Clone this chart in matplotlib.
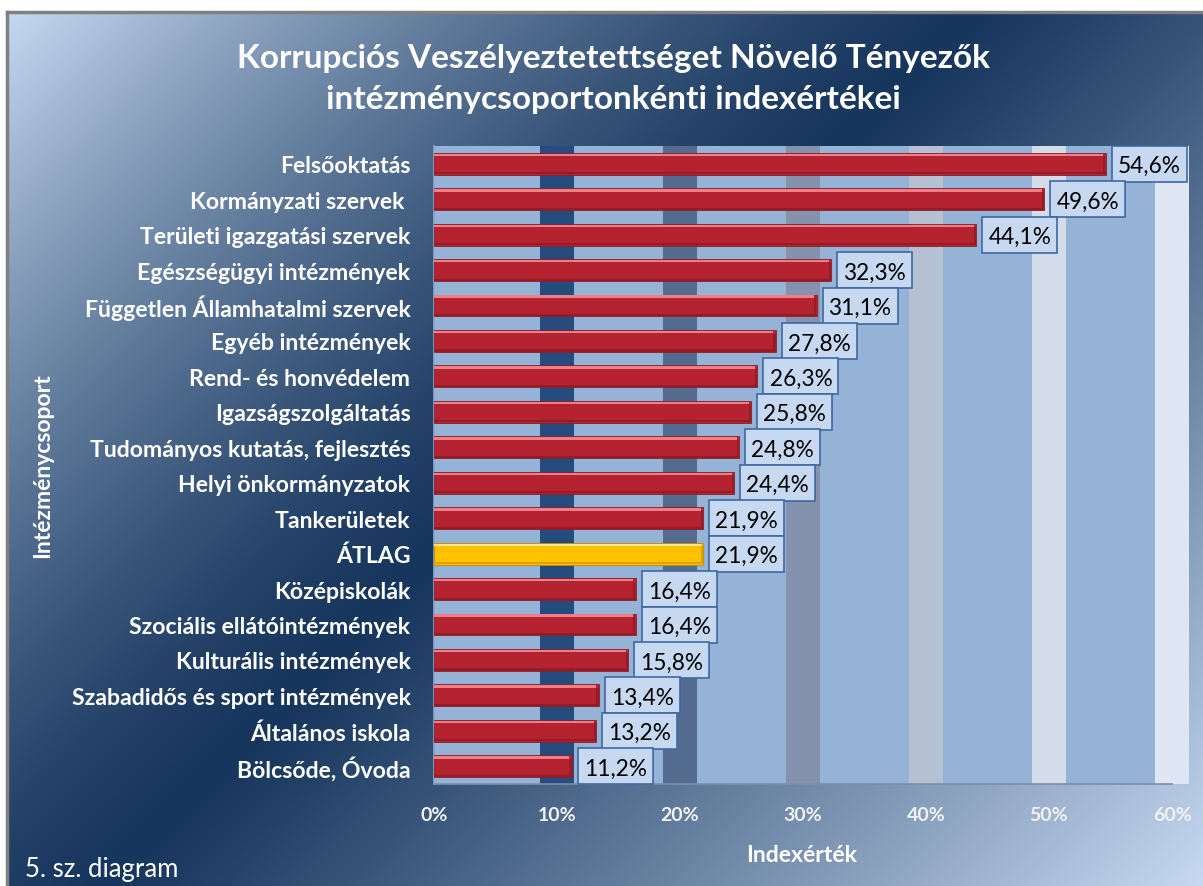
import numpy as np
import matplotlib.pyplot as plt
from matplotlib.colors import to_rgb
from matplotlib.patches import Rectangle

categories = [
    "Felsőoktatás",
    "Kormányzati szervek ",
    "Területi igazgatási szervek",
    "Egészségügyi intézmények",
    "Független Államhatalmi szervek",
    "Egyéb intézmények",
    "Rend- és honvédelem",
    "Igazságszolgáltatás",
    "Tudományos kutatás, fejlesztés",
    "Helyi önkormányzatok",
    "Tankerületek",
    "ÁTLAG",
    "Középiskolák",
    "Szociális ellátóintézmények",
    "Kulturális intézmények",
    "Szabadidős és sport intézmények",
    "Általános iskola",
    "Bölcsőde, Óvoda",
]
values = [54.6, 49.6, 44.1, 32.3, 31.1, 27.8, 26.3, 25.8, 24.8, 24.4,
          21.9, 21.9, 16.4, 16.4, 15.8, 13.4, 13.2, 11.2]
highlight = "ÁTLAG"
x_ticks = [0, 10, 20, 30, 40, 50, 60]
x_tick_labels = ["0%", "10%", "20%", "30%", "40%", "50%", "60%"]

title = "Korrupciós Veszélyeztetettséget Növelő Tényezők\nintézménycsoportonkénti indexértékei"
FONT = "Lato"

W, H = 1203, 887
fig = plt.figure(figsize=(W / 100, H / 100), dpi=100)
fig.patch.set_facecolor("white")


def px_box(x0, y0, x1, y1):
    # pixel box (from top-left) -> figure fraction rect
    return [x0 / W, 1 - y1 / H, (x1 - x0) / W, (y1 - y0) / H]


# background gradient: light corner -> dark navy band -> light corner
bg = fig.add_axes(px_box(7, 13, W, H), zorder=-10)
gx, gy = np.meshgrid(np.linspace(0, 1, 400), np.linspace(0, 1, 300))
t = (gx + 0.73 * gy) / 1.73
t0 = 0.47
light = np.array(to_rgb("#c6d9f1"))
dark = np.array(to_rgb("#17365d"))
f = np.where(t < t0, (1 - t / t0) ** 1.4, ((t - t0) / (1 - t0)) ** 1.1)
img = dark[None, None, :] + f[..., None] * (light - dark)[None, None, :]
bg.imshow(img, aspect="auto", extent=[0, 1, 1, 0])
bg.set_xlim(0, 1)
bg.set_ylim(1, 0)
bg.axis("off")
fig.add_artist(plt.Line2D([7 / W, 7 / W], [0, 1 - 13 / H], color="#808080", lw=2.5))
fig.add_artist(plt.Line2D([7 / W, 1], [1 - 13 / H, 1 - 13 / H], color="#808080", lw=2.5))

ax_px = (434, 147, 1172, 785)
ax = fig.add_axes(px_box(*ax_px))
ax.set_facecolor("none")
ax.set_xlim(0, 60)
n = len(categories)
ax.set_ylim(n - 0.5, -0.5)
dx = 60 / (ax_px[2] - ax_px[0])   # data units per pixel, x
dy = n / (ax_px[3] - ax_px[1])    # data units per pixel, y

# plot area fill (extends a bit past 60%)
ax.add_patch(Rectangle((0, 0), 1.0225, 1, transform=ax.transAxes,
                       facecolor="#95b3d7", edgecolor="none", zorder=0, clip_on=False))
ax.plot([0, 0], [0, 1], transform=ax.transAxes, color="#8ea8c8", lw=1.2, zorder=1, clip_on=False)

band_colors = ["#244c7e", "#546b90", "#8592ad", "#b5c0d3", "#d2dde9", "#dde6f2"]
for xt, c in zip(x_ticks[1:], band_colors):
    ax.axvspan(xt - 1.38, xt + 1.38, color=c, zorder=1, clip_on=False, lw=0)

bar_h = 0.62
ypos = np.arange(n)
box_w, box_h = 75, 36
for i, (cat, v) in enumerate(zip(categories, values)):
    if cat == highlight:
        main, hi, lo, edge = "#ffc000", "#ffe98a", "#dca400", "#c08c00"
    else:
        main, hi, lo, edge = "#b52230", "#ee7f88", "#961b27", "#86202a"
    ax.barh(i, v, height=bar_h, color=main, edgecolor=edge, lw=0.6, zorder=3)
    ax.barh(i - bar_h / 2 + 0.06, v - 0.2, height=0.07, color=hi, lw=0, zorder=4)
    ax.barh(i + bar_h / 2 - 0.04, v, height=0.06, color=lo, lw=0, zorder=4)
    ax.barh(i + 0.03, 0.18, left=v - 0.2, height=bar_h - 0.14, color=lo, lw=0, zorder=4)

    # data label box
    bx = v + 6 * dx
    ax.add_patch(Rectangle((bx, i - box_h * dy / 2), box_w * dx, box_h * dy,
                           facecolor="#c6d9f1", edgecolor="#3f68a0", lw=1.2,
                           zorder=10 + 2 * i, clip_on=False))
    lab = f"{v:.1f}%".replace(".", ",")
    ax.text(bx + box_w * dx / 2, i, lab, ha="center", va="center_baseline",
            fontsize=16.3, family=FONT, color="black", zorder=11 + 2 * i, clip_on=False)

ax.set_yticks(ypos)
ax.set_yticklabels(categories, family=FONT, fontweight="bold", fontsize=16.6, color="white")
ax.set_xticks(x_ticks)
ax.set_xticklabels(x_tick_labels, family=FONT, fontweight="bold", fontsize=14, color="#f2f2f2")
ax.tick_params(axis="y", length=0, pad=17)
ax.tick_params(axis="x", length=0, pad=16)
for s in ["top", "right", "left"]:
    ax.spines[s].set_visible(False)
ax.spines["bottom"].set_color("#7f8ea3")
ax.spines["bottom"].set_linewidth(1.2)
ax.spines["bottom"].set_zorder(5)

fig.text(613 / W, 1 - 79 / H, title, ha="center", va="center", color="white",
         family=FONT, fontweight="bold", fontsize=24, linespacing=1.5)
fig.text(802 / W, 1 - 856 / H, "Indexérték", ha="center", va="center", color="white",
         family=FONT, fontweight="bold", fontsize=16.5)
fig.text(43 / W, 1 - 466 / H, "Intézménycsoport", ha="center", va="center", color="white",
         family=FONT, fontweight="bold", fontsize=16.5, rotation=90)
fig.text(25 / W, 1 - 870 / H, "5. sz. diagram", ha="left", va="center", color="white",
         family=FONT, fontsize=18.5)

fig.savefig("out.png", dpi=100, facecolor=fig.get_facecolor())
